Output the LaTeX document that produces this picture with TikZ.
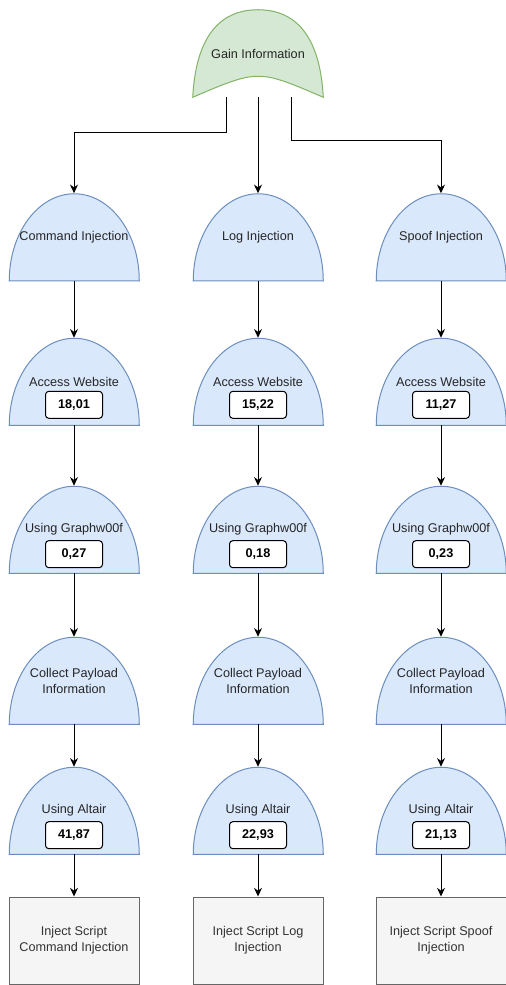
\documentclass[tikz,border=0pt]{standalone}
\usepackage{fontspec}
\setmainfont{Liberation Sans}
\usetikzlibrary{arrows.meta,positioning,backgrounds}
\definecolor{andfill}{HTML}{DAE8FC}
\definecolor{andline}{HTML}{6C8EBF}
\definecolor{orfill}{HTML}{D5E8D4}
\definecolor{orline}{HTML}{82B366}
\definecolor{leaffill}{HTML}{F5F5F5}
\definecolor{leafline}{HTML}{666666}
\definecolor{leaftext}{HTML}{333333}

\begin{document}
\begin{tikzpicture}[
    x=0.75pt,y=0.75pt,
    gate/.style = {rectangle,inner sep=0pt,minimum width=97.5pt,minimum height=65.25pt,
                   align=center,font=\fontsize{9.5}{12}\selectfont,text=black!85},
    val/.style  = {rectangle,rounded corners=2.5pt,draw=black,fill=white,line width=0.75pt,
                   minimum width=42.75pt,minimum height=20.25pt,inner sep=0pt,
                   font=\fontsize{9.5}{12}\selectfont\bfseries},
    leaf/.style = {rectangle,draw=leafline,fill=leaffill,line width=0.75pt,inner sep=0pt,
                   minimum width=97.5pt,minimum height=65.25pt,align=center,
                   font=\fontsize{9.5}{12}\selectfont,text=leaftext},
    dome/.style = {draw=andline,fill=andfill,line width=0.75pt},
    orsh/.style = {draw=orline,fill=orfill,line width=0.75pt},
    fl/.style   = {-{Stealth[length=6.5pt,width=6pt]},line width=0.75pt},
  ]
  \useasboundingbox (0,0) rectangle (506,-985);

  \node[gate] (gain) at (258,-53.5) {Gain Information};

  \node[gate] (c1) at (74,-237)  {Command Injection};
  \node[gate] (l1) at (258,-237) {Log Injection};
  \node[gate] (s1) at (441,-237) {Spoof Injection};

  \node[gate] (c2) at (74,-381.5)  {Access Website};
  \node[gate] (l2) at (258,-381.5) {Access Website};
  \node[gate] (s2) at (441,-381.5) {Access Website};

  \node[gate] (c3) at (74,-529.5)  {Using Graphw00f};
  \node[gate] (l3) at (258,-529.5) {Using Graphw00f};
  \node[gate] (s3) at (441,-529.5) {Using Graphw00f};

  \node[gate] (c4) at (74,-680.5)  {Collect Payload\\Information};
  \node[gate] (l4) at (258,-680.5) {Collect Payload\\Information};
  \node[gate] (s4) at (441,-680.5) {Collect Payload\\Information};

  \node[gate] (c5) at (74,-810.5)  {Using Altair};
  \node[gate] (l5) at (258,-810.5) {Using Altair};
  \node[gate] (s5) at (441,-810.5) {Using Altair};

  \node[leaf] (c6) at (74,-940.5)  {Inject Script\\Command Injection};
  \node[leaf] (l6) at (258,-940.5) {Inject Script Log\\Injection};
  \node[leaf] (s6) at (441,-940.5) {Inject Script Spoof\\Injection};

  % values
  \node[val] (cv2) at ([yshift=-17.5pt]c2.center) {18,01};
  \node[val] (lv2) at ([yshift=-17.5pt]l2.center) {15,22};
  \node[val] (sv2) at ([yshift=-17.5pt]s2.center) {11,27};
  \node[val] (cv3) at ([yshift=-18.5pt]c3.center) {0,27};
  \node[val] (lv3) at ([yshift=-18.5pt]l3.center) {0,18};
  \node[val] (sv3) at ([yshift=-18.5pt]s3.center) {0,23};
  \node[val] (cv5) at ([yshift=-18.5pt]c5.center) {41,87};
  \node[val] (lv5) at ([yshift=-18.5pt]l5.center) {22,93};
  \node[val] (sv5) at ([yshift=-18.5pt]s5.center) {21,13};

  \begin{scope}[on background layer]
    \draw[orsh] (gain.south west) .. controls +(3,58) and +(-40,0) .. (gain.north)
                .. controls +(40,0) and +(-3,58) .. (gain.south east)
                .. controls +(-65,28) .. (gain.south west) -- cycle;
    \foreach \col in {c,l,s}
      \foreach \i in {1,...,5}
        \draw[dome] (\col\i.south west) -- (\col\i.south east)
                    arc[start angle=0,end angle=180,x radius=48.75pt,y radius=65.25pt] -- cycle;
  \end{scope}

  \draw[fl] ([xshift=-24pt]gain.south) -- ++(0,-35) -| (c1);
  \draw[fl] (gain) -- (l1);
  \draw[fl] ([xshift=24.75pt]gain.south) -- ++(0,-43) -| (s1);
  \foreach \col in {c,l,s}
    \foreach \i/\j in {1/2,2/3,3/4,4/5,5/6}
      \draw[fl] (\col\i) -- (\col\j);

\end{tikzpicture}
\end{document}
